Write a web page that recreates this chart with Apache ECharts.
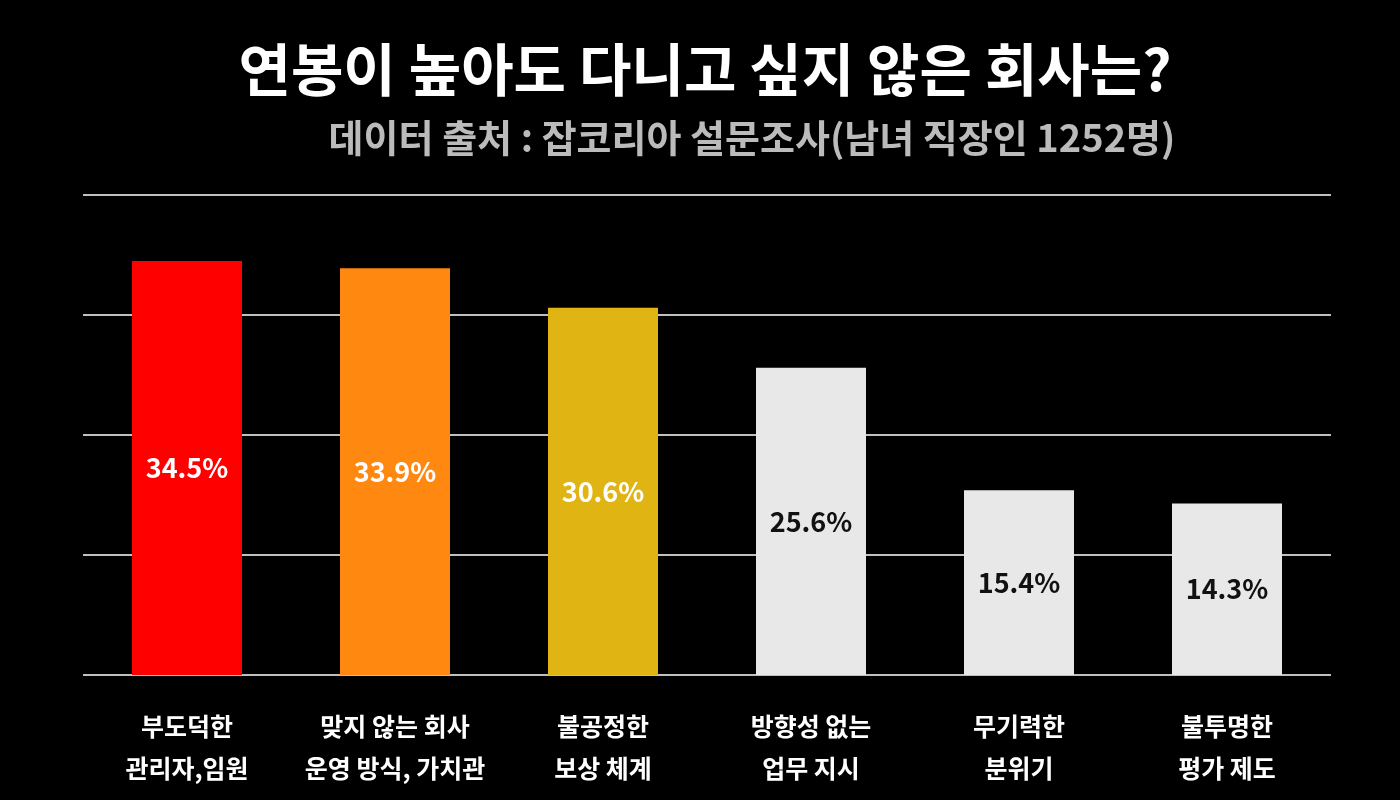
<!DOCTYPE html>
<html><head><meta charset="utf-8">
<script src="https://cdn.jsdelivr.net/npm/echarts@6/dist/echarts.min.js"></script>
<style>html,body{margin:0;background:#000}#c{width:1400px;height:800px}</style>
</head><body><div id="c"></div>
<script>
const categories = ['부도덕한\n관리자,임원','맞지 않는 회사\n운영 방식, 가치관','불공정한\n보상 체계','방향성 없는\n업무 지시','무기력한\n분위기','불투명한\n평가 제도'];
const values = [34.5, 33.9, 30.6, 25.6, 15.4, 14.3];
const colors = ['#ff0000','#ff8811','#e0b412','#e8e8e8','#e8e8e8','#e8e8e8'];
const labelColors = ['#fff','#fff','#fff','#111','#111','#111'];
const F = '"Noto Sans CJK KR", sans-serif';
const chart = echarts.init(document.getElementById('c'));
chart.setOption({
  backgroundColor:'#000',
  title:[
    {text:'연봉이 높아도 다니고 싶지 않은 회사는?',left:700,textAlign:'center',top:36,textStyle:{color:'#fff',fontSize:57,fontWeight:'bold',fontFamily:F}},
    {text:'데이터 출처 : 잡코리아 설문조사(남녀 직장인 1252명)',left:747,textAlign:'center',top:114,textStyle:{color:'#bbbbbb',fontSize:38,fontWeight:'bold',fontFamily:F}}
  ],
  grid:{left:83,right:69,top:195,bottom:125},
  xAxis:{type:'category',data:categories,axisLine:{show:false},axisTick:{show:false},
    axisLabel:{interval:0,color:'#fff',fontSize:25,fontWeight:'bold',fontFamily:F,lineHeight:42,margin:30}},
  yAxis:{type:'value',min:0,max:40,interval:10,axisLabel:{show:false},
    splitLine:{lineStyle:{color:'#ffffff',width:1.5}}},
  series:[{type:'bar',barWidth:110,
    data:values.map((v,i)=>({value:v,itemStyle:{color:colors[i]},label:{color:labelColors[i]}})),
    label:{show:true,position:'inside',formatter:'{c}%',fontSize:27,fontWeight:'bold',fontFamily:F}}]
});
</script></body></html>
